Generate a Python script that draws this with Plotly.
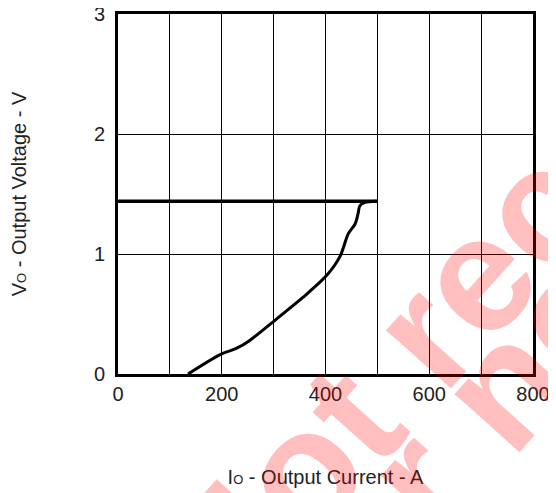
import plotly.graph_objects as go

# Data
curve_current = [135, 196, 229, 254, 306, 357, 402, 428, 444, 457, 463, 466, 476, 498]
curve_voltage = [0.0, 0.16, 0.215, 0.28, 0.46, 0.64, 0.82, 0.98, 1.17, 1.25, 1.34, 1.40, 1.43, 1.44]
limit_current = [0, 500]
limit_voltage = [1.44, 1.44]
x_ticks = [0, 200, 400, 600, 800]
y_ticks = [0, 1, 2, 3]

FONT = "Liberation Sans, Arial, sans-serif"

fig = go.Figure()
fig.add_trace(go.Scatter(x=limit_current, y=limit_voltage, mode="lines",
                         line=dict(color="black", width=3.5), showlegend=False))
fig.add_trace(go.Scatter(x=curve_current, y=curve_voltage, mode="lines",
                         line=dict(color="black", width=3, shape="spline", smoothing=0.8),
                         showlegend=False))

axis_common = dict(showline=True, mirror=True, linecolor="black", linewidth=3,
                   showgrid=True, gridcolor="black", gridwidth=1, zeroline=False,
                   ticks="", ticklabeloverflow="allow",
                   tickfont=dict(family=FONT, size=20, color="#222"))

fig.update_xaxes(range=[0, 800], tickvals=x_ticks, ticktext=[str(v) for v in x_ticks],
                 minor=dict(dtick=100, showgrid=True, gridcolor="black", gridwidth=1),
                 ticklabelstandoff=0,
                 title=dict(text="I<span style='font-size:13px'>O</span> - Output Current - A",
                            font=dict(family=FONT, size=20, color="#222"), standoff=66),
                 **axis_common)
fig.update_yaxes(range=[0, 3], tickvals=y_ticks, ticktext=[str(v) for v in y_ticks],
                 ticklabelstandoff=6,
                 title=dict(text="V<span style='font-size:13px'>O</span> - Output Voltage - V",
                            font=dict(family=FONT, size=20, color="#222"), standoff=68),
                 **axis_common)

# watermark
wm_font = dict(family="Liberation Sans, Arial, sans-serif", size=165, color="rgba(255,0,0,0.25)")
fig.add_annotation(text="<b>Not recommended</b>", xref="paper", yref="paper",
                   x=1.333, y=0.874, xanchor="center", yanchor="middle",
                   showarrow=False, textangle=-48, font=wm_font)
fig.add_annotation(text="<b>for new designs</b>", xref="paper", yref="paper",
                   x=1.432, y=0.613, xanchor="center", yanchor="middle",
                   showarrow=False, textangle=-48, font=wm_font)

fig.update_layout(width=548, height=485, plot_bgcolor="white", paper_bgcolor="white",
                  margin=dict(l=110, r=23, t=6, b=119, autoexpand=False))

fig.write_html("out.html")
